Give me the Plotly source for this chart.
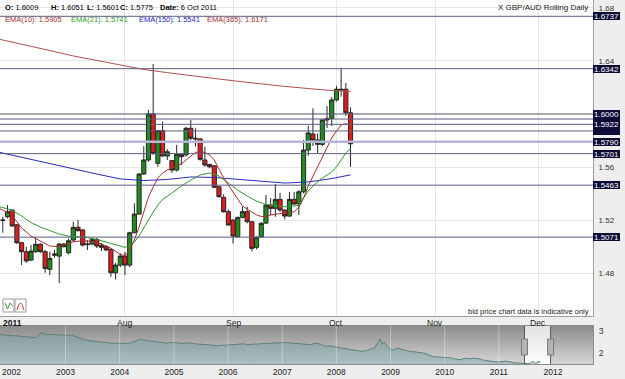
import pandas as pd
import plotly.graph_objects as go

W, H = 625, 379

# ---------------- main chart data (GBP/AUD daily) ----------------
candle_dates = pd.bdate_range("2011-06-24", "2011-10-06")
opens = [1.5198, 1.5225, 1.5275, 1.5164, 1.5029, 1.4961, 1.4898, 1.4961, 1.5017, 1.4961,
         1.4828, 1.4945, 1.4928, 1.5019, 1.4953, 1.5049, 1.5145, 1.5125, 1.5020, 1.5019,
         1.5054, 1.5010, 1.4999, 1.4979, 1.4802, 1.4860, 1.4928, 1.4860, 1.5104, 1.5245,
         1.5547, 1.5653, 1.6000, 1.5628, 1.5874, 1.5683, 1.5648, 1.5577, 1.5696, 1.5691,
         1.5892, 1.5817, 1.5812, 1.5653, 1.5620, 1.5608, 1.5451, 1.5371, 1.5263, 1.5200,
         1.5074, 1.5220, 1.5263, 1.5187, 1.4994, 1.5072, 1.5177, 1.5313, 1.5288, 1.5356,
         1.5275, 1.5230, 1.5356, 1.5321, 1.5413, 1.5728, 1.5849, 1.5804, 1.5771, 1.5955,
         1.5968, 1.6106, 1.6187, 1.6187, 1.6009]
highs = [1.5225, 1.5313, 1.5280, 1.5170, 1.5035, 1.4999, 1.5011, 1.5070, 1.5025, 1.4974,
         1.4961, 1.4975, 1.5024, 1.5025, 1.5060, 1.5187, 1.5200, 1.5130, 1.5049, 1.5065,
         1.5065, 1.5026, 1.5010, 1.4985, 1.4878, 1.4950, 1.4960, 1.5112, 1.5326, 1.5555,
         1.5758, 1.6030, 1.6377, 1.5880, 1.5942, 1.5735, 1.5653, 1.5766, 1.5705, 1.5904,
         1.5955, 1.5892, 1.5817, 1.5753, 1.5623, 1.5615, 1.5455, 1.5395, 1.5280, 1.5205,
         1.5225, 1.5300, 1.5300, 1.5190, 1.5077, 1.5185, 1.5389, 1.5366, 1.5472, 1.5404,
         1.5280, 1.5413, 1.5413, 1.5426, 1.5804, 1.5910, 1.6043, 1.5854, 1.5960, 1.6060,
         1.6128, 1.6213, 1.6345, 1.6234, 1.6051]
lows = [1.5104, 1.5213, 1.5150, 1.5020, 1.4860, 1.4878, 1.4890, 1.4953, 1.4953, 1.4802,
        1.4785, 1.4915, 1.4725, 1.4993, 1.4940, 1.5036, 1.5112, 1.5000, 1.4974, 1.5010,
        1.4989, 1.4966, 1.4966, 1.4772, 1.4752, 1.4845, 1.4785, 1.4845, 1.5100, 1.5240,
        1.5540, 1.5640, 1.5691, 1.5602, 1.5678, 1.5653, 1.5555, 1.5565, 1.5615, 1.5678,
        1.5804, 1.5753, 1.5648, 1.5602, 1.5590, 1.5440, 1.5370, 1.5255, 1.5160, 1.5024,
        1.5070, 1.5213, 1.5175, 1.4964, 1.4979, 1.5070, 1.5170, 1.5238, 1.5225, 1.5263,
        1.5205, 1.5225, 1.5313, 1.5238, 1.5401, 1.5685, 1.5758, 1.5703, 1.5758, 1.5894,
        1.5909, 1.6094, 1.6131, 1.5985, 1.5601]
closes = [1.5200, 1.5263, 1.5155, 1.5029, 1.4961, 1.4891, 1.4966, 1.5017, 1.4961, 1.4835,
          1.4911, 1.4935, 1.5019, 1.4999, 1.5044, 1.5145, 1.5120, 1.5011, 1.5015, 1.5054,
          1.5004, 1.4994, 1.4974, 1.4802, 1.4860, 1.4928, 1.4860, 1.5104, 1.5245, 1.5547,
          1.5653, 1.6000, 1.5703, 1.5874, 1.5683, 1.5715, 1.5577, 1.5696, 1.5678, 1.5892,
          1.5817, 1.5812, 1.5658, 1.5615, 1.5602, 1.5447, 1.5376, 1.5263, 1.5162, 1.5079,
          1.5220, 1.5263, 1.5187, 1.4986, 1.5070, 1.5175, 1.5313, 1.5288, 1.5356, 1.5275,
          1.5230, 1.5356, 1.5321, 1.5413, 1.5728, 1.5857, 1.5804, 1.5771, 1.5955, 1.5965,
          1.6106, 1.6187, 1.6182, 1.6009, 1.5775]

ema10_dates = ["2011-06-23", "2011-06-24", "2011-06-28", "2011-06-30", "2011-07-04", "2011-07-06",
               "2011-07-08", "2011-07-12", "2011-07-14", "2011-07-15", "2011-07-19", "2011-07-21",
               "2011-07-25", "2011-07-27", "2011-07-29", "2011-08-01", "2011-08-02", "2011-08-03",
               "2011-08-04", "2011-08-05", "2011-08-08", "2011-08-09", "2011-08-10", "2011-08-11",
               "2011-08-12", "2011-08-15", "2011-08-16", "2011-08-17", "2011-08-18", "2011-08-19",
               "2011-08-22", "2011-08-23", "2011-08-24", "2011-08-25", "2011-08-26", "2011-08-29",
               "2011-08-30", "2011-08-31", "2011-09-01", "2011-09-02", "2011-09-05", "2011-09-06",
               "2011-09-07", "2011-09-08", "2011-09-09", "2011-09-12", "2011-09-13", "2011-09-14",
               "2011-09-15", "2011-09-16", "2011-09-19", "2011-09-20", "2011-09-21", "2011-09-22",
               "2011-09-23", "2011-09-26", "2011-09-27", "2011-09-28", "2011-09-29", "2011-09-30",
               "2011-10-03", "2011-10-04", "2011-10-05", "2011-10-06"]
ema10 = [1.5291, 1.5275, 1.5234, 1.5140, 1.5079, 1.5042, 1.5004, 1.4999, 1.5023, 1.5036,
         1.5044, 1.5038, 1.5019, 1.4987, 1.4940, 1.4932, 1.4974, 1.5049, 1.5147, 1.5253,
         1.5374, 1.5449, 1.5517, 1.5555, 1.5577, 1.5592, 1.5608, 1.5623, 1.5653, 1.5683,
         1.5710, 1.5717, 1.5710, 1.5691, 1.5653, 1.5585, 1.5517, 1.5464, 1.5411, 1.5359,
         1.5306, 1.5283, 1.5257, 1.5238, 1.5227, 1.5227, 1.5238, 1.5245, 1.5249, 1.5251,
         1.5257, 1.5263, 1.5298, 1.5366, 1.5457, 1.5532, 1.5600, 1.5676, 1.5751, 1.5819,
         1.5872, 1.5917, 1.5928, 1.5905]

ema21_dates = ["2011-06-23", "2011-06-24", "2011-06-28", "2011-06-30", "2011-07-04", "2011-07-06",
               "2011-07-08", "2011-07-12", "2011-07-14", "2011-07-18", "2011-07-20", "2011-07-22",
               "2011-07-26", "2011-07-28", "2011-08-01", "2011-08-02", "2011-08-03", "2011-08-04",
               "2011-08-05", "2011-08-08", "2011-08-09", "2011-08-10", "2011-08-11", "2011-08-15",
               "2011-08-17", "2011-08-19", "2011-08-23", "2011-08-25", "2011-08-29", "2011-08-31",
               "2011-09-02", "2011-09-06", "2011-09-08", "2011-09-12", "2011-09-14", "2011-09-16",
               "2011-09-20", "2011-09-21", "2011-09-22", "2011-09-23", "2011-09-26", "2011-09-27",
               "2011-09-28", "2011-09-30", "2011-10-03", "2011-10-04", "2011-10-05", "2011-10-06"]
ema21 = [1.5302, 1.5294, 1.5272, 1.5230, 1.5181, 1.5147, 1.5121, 1.5094, 1.5079, 1.5075,
         1.5068, 1.5053, 1.5034, 1.5011, 1.4994, 1.5008, 1.5034, 1.5079, 1.5140, 1.5208,
         1.5260, 1.5313, 1.5355, 1.5404, 1.5457, 1.5502, 1.5540, 1.5555, 1.5532, 1.5479,
         1.5426, 1.5381, 1.5343, 1.5317, 1.5306, 1.5300, 1.5306, 1.5313, 1.5366, 1.5419,
         1.5457, 1.5487, 1.5517, 1.5562, 1.5602, 1.5653, 1.5706, 1.5741]

ema_long_dates = ["2011-06-23", "2011-07-01", "2011-07-08", "2011-07-15", "2011-07-22", "2011-07-29",
                  "2011-08-05", "2011-08-12", "2011-08-19", "2011-08-26", "2011-09-02", "2011-09-09",
                  "2011-09-16", "2011-09-23", "2011-09-30", "2011-10-06"]
ema150 = [1.5713, 1.5664, 1.5623, 1.5585, 1.5547, 1.5510, 1.5498, 1.5506, 1.5525, 1.5521,
          1.5506, 1.5491, 1.5479, 1.5487, 1.5513, 1.5541]
ema365 = [1.6566, 1.6521, 1.6479, 1.6438, 1.6404, 1.6366, 1.6336, 1.6312, 1.6288, 1.6268,
          1.6247, 1.6226, 1.6208, 1.6192, 1.6177, 1.6171]

# horizontal levels; labels drawn in this order (later ones cover earlier ones)
levels = [1.6737, 1.6342, 1.5962, 1.5872, 1.6000, 1.5922, 1.5790, 1.5701, 1.5463, 1.5071]
hidden_label_levels = [1.5962, 1.5872]
light_level = 1.5790
y_ticks = [1.48, 1.52, 1.56, 1.60, 1.64, 1.68]
y_tick_hidden = [1.60]
month_names = ["Aug", "Sep", "Oct", "Nov", "Dec"]
month_nums = [8, 9, 10, 11, 12]

# ---------------- navigator data (long history) ----------------
nav_dates = ["2001-10-15", "2001-11-15", "2001-12-15", "2002-01-15", "2002-02-15", "2002-03-15",
             "2002-04-15", "2002-05-15", "2002-06-15", "2002-07-10", "2002-07-25", "2002-08-15",
             "2002-09-15", "2002-10-15", "2002-11-15", "2002-12-15", "2003-01-15", "2003-02-15",
             "2003-03-15", "2003-04-15", "2003-05-15", "2003-06-15", "2003-07-15", "2003-08-15",
             "2003-09-15", "2003-10-15", "2003-11-15", "2003-12-15", "2004-01-15", "2004-02-15",
             "2004-03-15", "2004-04-15", "2004-05-15", "2004-06-15", "2004-07-15", "2004-08-15",
             "2004-09-15", "2004-10-15", "2004-11-15", "2004-12-15", "2005-01-15", "2005-02-15",
             "2005-03-15", "2005-04-15", "2005-05-15", "2005-06-15", "2005-07-15", "2005-08-15",
             "2005-09-15", "2005-10-15", "2005-11-15", "2005-12-15", "2006-01-15", "2006-02-15",
             "2006-03-15", "2006-04-15", "2006-05-15", "2006-06-15", "2006-07-15", "2006-08-15",
             "2006-09-15", "2006-10-15", "2006-11-15", "2006-12-15", "2007-01-15", "2007-02-15",
             "2007-03-15", "2007-04-15", "2007-05-15", "2007-06-15", "2007-07-15", "2007-08-15",
             "2007-09-15", "2007-10-15", "2007-11-15", "2007-12-15", "2008-01-15", "2008-02-15",
             "2008-03-15", "2008-04-15", "2008-05-15", "2008-06-15", "2008-07-15", "2008-08-15",
             "2008-09-15", "2008-10-10", "2008-10-24", "2008-11-05", "2008-11-20", "2008-12-10",
             "2008-12-28", "2009-01-20", "2009-02-15", "2009-03-15", "2009-04-15", "2009-05-15",
             "2009-06-15", "2009-07-15", "2009-08-15", "2009-09-15", "2009-10-15", "2009-11-15",
             "2009-12-15", "2010-01-15", "2010-02-15", "2010-03-15", "2010-04-15", "2010-05-15",
             "2010-06-15", "2010-07-15", "2010-08-15", "2010-09-15", "2010-10-15", "2010-11-15",
             "2010-12-15", "2011-01-15", "2011-02-15", "2011-03-15", "2011-04-15", "2011-05-15",
             "2011-06-15", "2011-07-15", "2011-07-29", "2011-08-09", "2011-08-22", "2011-09-07",
             "2011-09-23", "2011-10-06"]
nav_vals = [2.84, 2.82, 2.80, 2.78, 2.76, 2.74, 2.72, 2.69, 2.70, 2.88, 2.92, 2.86,
            2.85, 2.87, 2.84, 2.85, 2.83, 2.80, 2.74, 2.66, 2.60, 2.55, 2.52, 2.50,
            2.48, 2.46, 2.44, 2.43, 2.42, 2.43, 2.45, 2.52, 2.62, 2.58, 2.56, 2.54,
            2.50, 2.47, 2.44, 2.48, 2.46, 2.43, 2.44, 2.46, 2.42, 2.40, 2.37, 2.36,
            2.35, 2.33, 2.34, 2.36, 2.35, 2.37, 2.39, 2.41, 2.38, 2.40, 2.42, 2.41,
            2.43, 2.44, 2.46, 2.48, 2.47, 2.46, 2.44, 2.42, 2.40, 2.39, 2.37, 2.45,
            2.40, 2.30, 2.32, 2.28, 2.24, 2.20, 2.18, 2.12, 2.08, 2.07, 2.08, 2.14,
            2.22, 2.50, 2.65, 2.40, 2.48, 2.30, 2.18, 2.12, 2.22, 2.16, 2.10, 2.05,
            2.04, 2.02, 1.98, 1.90, 1.82, 1.80, 1.79, 1.78, 1.76, 1.70, 1.68, 1.74,
            1.72, 1.74, 1.73, 1.66, 1.62, 1.60, 1.57, 1.58, 1.61, 1.58, 1.53, 1.52,
            1.52, 1.50, 1.49, 1.57, 1.58, 1.50, 1.59, 1.58]
nav_years = list(range(2003, 2012))

# ---------------- helpers ----------------
FONT = "Liberation Sans, Arial, sans-serif"
cal = pd.bdate_range("2011-06-23", "2011-12-30")
pos = {d: i for i, d in enumerate(cal)}


def xi(ds):
    return [pos[pd.Timestamp(d)] for d in ds]


def px(x):
    return x / W


def py(y):
    return 1 - y / H


month_idx = [next(i for i, d in enumerate(cal) if d.month == m) for m in month_nums]
main_range = [0.4, 126.6]
win_start = cal[0]
win_end = cal[int(main_range[1])]
nav_range = [pd.Timestamp("2001-10-16"), pd.Timestamp("2012-09-27")]
nav_yr = [1.476, 3.238]

fig = go.Figure()

# navigator background gradient (outside the selected window)
for a, b in [(nav_range[0], win_start), (win_end, nav_range[1])]:
    fig.add_trace(go.Scatter(
        x=[a, b, b, a, a], y=[nav_yr[0], nav_yr[0], nav_yr[1], nav_yr[1], nav_yr[0]],
        mode="lines", line=dict(width=0), fill="toself",
        fillgradient=dict(type="vertical", colorscale=[[0, "#d6d6d6"], [1, "#8c8c8c"]]),
        xaxis="x2", yaxis="y2", hoverinfo="skip", showlegend=False))
fig.add_trace(go.Scatter(
    x=[win_start, win_end, win_end, win_start, win_start],
    y=[nav_yr[0], nav_yr[0], nav_yr[1], nav_yr[1], nav_yr[0]],
    mode="lines", line=dict(width=0), fill="toself",
    fillgradient=dict(type="vertical", colorscale=[[0, "#ffffff"], [1, "#e2e2e2"]]),
    xaxis="x2", yaxis="y2", hoverinfo="skip", showlegend=False))
fig.add_trace(go.Scatter(
    x=pd.to_datetime(nav_dates), y=nav_vals, mode="lines",
    line=dict(color="#5f7e7e", width=1), fill="tozeroy",
    fillcolor="rgba(110,160,160,0.42)", xaxis="x2", yaxis="y2",
    hoverinfo="skip", showlegend=False))

# main chart
fig.add_trace(go.Scatter(x=xi(ema_long_dates), y=ema365, mode="lines",
                         line=dict(color="#b05050", width=1), hoverinfo="skip", showlegend=False))
fig.add_trace(go.Scatter(x=xi(ema_long_dates), y=ema150, mode="lines",
                         line=dict(color="#2a2ac0", width=1), hoverinfo="skip", showlegend=False))
fig.add_trace(go.Candlestick(
    x=xi(candle_dates), open=opens, high=highs, low=lows, close=closes,
    increasing=dict(fillcolor="#1f8e1f", line=dict(color="#262626", width=1)),
    decreasing=dict(fillcolor="#e01c1c", line=dict(color="#262626", width=1)),
    whiskerwidth=0, hoverinfo="skip", showlegend=False))
fig.add_trace(go.Scatter(x=xi(ema21_dates), y=ema21, mode="lines",
                         line=dict(color="#2f9a2f", width=1), hoverinfo="skip", showlegend=False))
fig.add_trace(go.Scatter(x=xi(ema10_dates), y=ema10, mode="lines",
                         line=dict(color="#a83030", width=1), hoverinfo="skip", showlegend=False))

shapes = []
annotations = []

# level lines
for lv in levels:
    if lv == light_level:
        shapes.append(dict(type="line", xref="x domain", yref="y", x0=0, x1=1, y0=lv, y1=lv,
                           line=dict(color="#b6b6d8", width=2.5), layer="above"))
    else:
        shapes.append(dict(type="line", xref="x domain", yref="y", x0=0, x1=1, y0=lv, y1=lv,
                           line=dict(color="#5c5c82", width=1), layer="above"))
# level label boxes (covered ones carry no readable text)
for lv in levels:
    txt = "" if lv in hidden_label_levels else "%.4f" % lv
    annotations.append(dict(
        x=px(593), xref="paper", xanchor="left", y=lv, yref="y", yanchor="middle",
        text=txt, showarrow=False, bgcolor="#0c0c36", width=27, height=8,
        borderpad=0, borderwidth=0, align="center", valign="middle",
        font=dict(family=FONT, size=8, color="#ffffff")))

# month labels under the main chart
for mi, mn in zip(month_idx, month_names):
    annotations.append(dict(x=mi, xref="x", y=py(323), yref="paper", xanchor="center",
                            yanchor="middle", text=mn, showarrow=False,
                            font=dict(family=FONT, size=8.5, color="#222222")))

# top info text
top_items = [
    (3, 7, "<b>O:</b> %.4f" % opens[-1], "#000000"),
    (49, 7, "<b>H:</b> %.4f" % highs[-1], "#000000"),
    (85, 7, "<b>L:</b> %.4f" % lows[-1], "#000000"),
    (118, 7, "<b>C:</b> %.4f" % closes[-1], "#000000"),
    (158, 7, "<b>Date:</b> %s" % candle_dates[-1].strftime("%-d %b %Y"), "#000000"),
    (3, 19.5, "EMA(10): %.4f" % ema10[-1], "#a83030"),
    (69, 19.5, "EMA(21): %.4f" % ema21[-1], "#2f9a2f"),
    (137, 19.5, "EMA(150): %.4f" % ema150[-1], "#2a2ac0"),
    (205, 19.5, "EMA(365): %.4f" % ema365[-1], "#a83030"),
]
for x, y, t, c in top_items:
    annotations.append(dict(x=px(x), y=py(y), xref="paper", yref="paper", xanchor="left",
                            yanchor="middle", text=t, showarrow=False,
                            font=dict(family=FONT, size=7.5, color=c)))
annotations.append(dict(x=px(590), y=py(7), xref="paper", yref="paper", xanchor="right",
                        yanchor="middle", text="X GBP/AUD Rolling Daily", showarrow=False,
                        font=dict(family=FONT, size=8, color="#222222")))
annotations.append(dict(x=px(591), y=py(311), xref="paper", yref="paper", xanchor="right",
                        yanchor="middle", text="bid price chart data is indicative only",
                        showarrow=False, font=dict(family=FONT, size=7.5, color="#222222")))
annotations.append(dict(x=px(1), y=py(323), xref="paper", yref="paper", xanchor="left",
                        yanchor="middle", text="<b>2011</b>", showarrow=False,
                        font=dict(family=FONT, size=8.5, color="#111111")))

# small tool icons bottom-left
for x0 in (3, 15):
    shapes.append(dict(type="rect", xref="paper", yref="paper", x0=px(x0), x1=px(x0 + 11),
                       y0=py(312), y1=py(299), line=dict(color="#9a9a9a", width=1),
                       fillcolor="#ffffff", layer="above"))
shapes.append(dict(type="path", xref="paper", yref="paper",
                   path="M %f %f L %f %f L %f %f L %f %f" % (px(5), py(303), px(7.5), py(309),
                                                               px(10), py(303), px(12.5), py(306)),
                   line=dict(color="#3a9a3a", width=1), layer="above"))
shapes.append(dict(type="path", xref="paper", yref="paper",
                   path="M %f %f Q %f %f %f %f" % (px(17), py(310), px(20.5), py(296),
                                                   px(24), py(310)),
                   line=dict(color="#cc3333", width=1), layer="above"))

# navigator year gridlines, window edges and handles
for yr in nav_years:
    shapes.append(dict(type="line", xref="x2", yref="y2 domain", x0=pd.Timestamp(yr, 1, 1),
                       x1=pd.Timestamp(yr, 1, 1), y0=0, y1=1,
                       line=dict(color="rgba(255,255,255,0.35)", width=1), layer="above"))
for d in (win_start, win_end):
    shapes.append(dict(type="line", xref="x2", yref="y2 domain", x0=d, x1=d, y0=0, y1=1,
                       line=dict(color="#555555", width=1), layer="above"))
    shapes.append(dict(type="rect", xref="x2", yref="paper", xsizemode="pixel", xanchor=d,
                       x0=-3, x1=3, y0=py(355), y1=py(339),
                       line=dict(color="#7a7a7a", width=1), fillcolor="#b4b4b4", layer="above"))

fig.update_layout(
    width=W, height=H, margin=dict(l=0, r=0, t=0, b=0),
    paper_bgcolor="#eeeeee", plot_bgcolor="#ffffff",
    boxgap=0.12, boxgroupgap=0,
    showlegend=False, hovermode=False,
    font=dict(family=FONT, size=9, color="#333333"),
    xaxis=dict(domain=[0, px(593)], range=main_range, anchor="y",
               tickvals=month_idx, ticktext=month_names, showticklabels=False,
               showgrid=True, gridcolor="#e6e6e6",
               zeroline=False, showline=True, linecolor="#a0a0a0", ticks="",
               rangeslider=dict(visible=False)),
    yaxis=dict(domain=[py(316), 1], range=[1.4476, 1.686], side="right", anchor="x",
               tickvals=y_ticks,
               ticktext=["" if v in y_tick_hidden else "%.2f" % v for v in y_ticks],
               showgrid=True, gridcolor="#e6e6e6", zeroline=False, showline=True,
               linecolor="#a0a0a0", ticks="", ticklabelstandoff=3,
               tickfont=dict(family=FONT, size=8, color="#333333")),
    xaxis2=dict(domain=[0, px(593)], range=nav_range, anchor="y2", type="date",
                tick0="2002-01-01", dtick="M12", tickformat="%Y", showgrid=False,
                zeroline=False, showline=True, mirror=True, linecolor="#8c8c8c", ticks="",
                tickfont=dict(family=FONT, size=8.5, color="#222222")),
    yaxis2=dict(domain=[py(364), py(326)], range=nav_yr, side="right", anchor="x2",
                tickvals=[2, 3], ticktext=["2", "3"], showgrid=False, zeroline=False,
                showline=True, mirror=True, linecolor="#8c8c8c", ticks="",
                ticklabelstandoff=3, tickfont=dict(family=FONT, size=8.5, color="#333333")),
    shapes=shapes, annotations=annotations,
)

fig.write_html("out.html")
